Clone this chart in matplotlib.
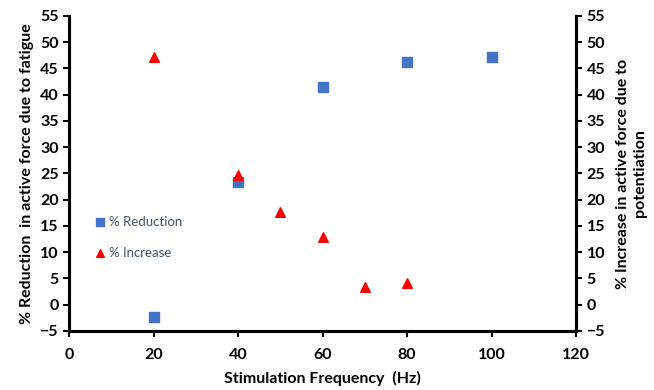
import matplotlib.pyplot as plt

freq_red = [20, 40, 60, 80, 100]
reduction = [-2.3, 23.3, 41.4, 46.2, 47.1]

freq_inc = [20, 40, 50, 60, 70, 80]
increase = [47.1, 24.7, 17.6, 12.9, 3.4, 4.1]

plt.rcParams['font.family'] = ['Lato', 'DejaVu Sans']

fig = plt.figure(figsize=(6.54, 3.9), dpi=100)
ax = fig.add_axes([0.1055, 0.1513, 0.7755, 0.8077])
ax2 = ax.twinx()

ax.scatter(freq_red, reduction, marker='s', s=42, color='#4472C4', label='% Reduction', zorder=3)
ax2.scatter(freq_inc, increase, marker='^', s=48, color='#FF0000', label='% Increase', zorder=3)

for a in (ax, ax2):
    a.set_ylim(-5, 55)
    a.set_yticks(range(-5, 56, 5))
    a.set_xlim(0, 120)
    for side in ('left', 'right', 'bottom', 'top'):
        a.spines[side].set_linewidth(2.2)
    a.spines['top'].set_visible(False)
    a.tick_params(width=1.5, length=4, labelsize=11.5)
    for lab in a.get_yticklabels() + a.get_xticklabels():
        lab.set_fontweight('bold')

ax.set_xticks(range(0, 121, 20))
ax.tick_params(axis='x', pad=8)

ax.set_xlabel('Stimulation Frequency  (Hz)', fontsize=11.5, fontweight='bold', labelpad=7)
ax.set_ylabel('% Reduction  in active force due to fatigue', fontsize=11.5, fontweight='bold', labelpad=4)
ax2.set_ylabel('% Increase in active force due to\npotentiation', fontsize=11.5, fontweight='bold', labelpad=8)

h1, l1 = ax.get_legend_handles_labels()
h2, l2 = ax2.get_legend_handles_labels()
leg = ax2.legend(h1 + h2, l1 + l2, loc='center left', bbox_to_anchor=(0.022, 0.298), frameon=False,
                 fontsize=9.5, handletextpad=0.1, labelspacing=1.45, markerscale=0.8,
                 handlelength=1.2)
for t in leg.get_texts():
    t.set_color('#44546A')

fig.savefig('out.png', dpi=100)
